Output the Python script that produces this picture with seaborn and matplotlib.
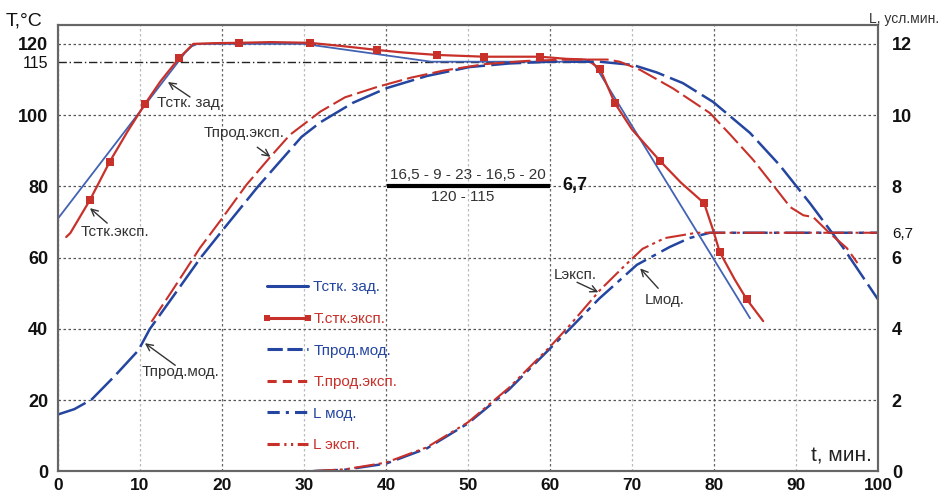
import matplotlib
matplotlib.use("Agg")
import matplotlib.pyplot as plt
from matplotlib.lines import Line2D
import seaborn as sns

# ---- data: time in minutes, temperature in °C, L in conventional minutes ----
# wall temperature, set-point
t_wall_set = [0, 15.5, 16.3, 17.0, 30.0, 45.5, 65.2, 84.4]
T_wall_set = [71, 117.5, 119.3, 120, 120, 115, 115, 43]

# wall temperature, experiment
t_wall_exp = [1.0, 1.5, 3.9, 6.3, 8.5, 10.6, 12.5, 14.8, 16.5, 19.0, 22.1, 26.0,
              30.7, 35.0, 38.9, 42.0, 46.2, 52.0, 58.8, 62.0, 64.5, 66.1, 67.9,
              70.0, 73.4, 76.0, 78.8, 79.9, 80.7, 82.5, 84.0, 86.0]
T_wall_exp = [65.8, 66.9, 76.2, 86.9, 95.5, 103.1, 109.5, 116.1, 120.0, 120.2,
              120.3, 120.5, 120.3, 119.3, 118.3, 117.6, 116.9, 116.4, 116.4,
              115.8, 115.6, 113.0, 103.4, 96.0, 87.2, 81.0, 75.3, 67.7, 61.6,
              54.0, 48.3, 42.2]
wall_exp_marked = [2, 3, 5, 7, 10, 12, 14, 16, 17, 18, 21, 22, 24, 26, 28, 30]

# product temperature, model
t_prod_mod = [0, 2, 4.1, 7, 9.8, 11.2, 14, 17.4, 20, 24.4, 29.7, 32, 36, 40.1,
              45, 50.2, 55, 60, 66, 70.1, 73, 76.2, 79.9, 84.4, 88, 91.7, 95.7, 100]
T_prod_mod = [16, 17.5, 20.2, 27, 34, 40, 49, 60, 67.5, 80, 93.9, 98, 103.5,
              107.6, 111, 113.5, 114.5, 115, 115, 114.1, 112, 109, 103.7, 95,
              86, 75.3, 63, 48.3]

# product temperature, experiment
t_prod_exp = [11.4, 14, 17.3, 20, 23, 25.9, 28.3, 32, 35, 38.9, 43, 47, 52, 57,
              62, 67, 68.5, 71, 75, 79.5, 82, 84.8, 87, 89.3, 90.9, 92.1, 94.1,
              96.2, 97.5]
T_prod_exp = [42, 51, 62.7, 71, 80.5, 88.3, 94.5, 101, 105, 107.9, 110.5, 112.5,
              114.3, 115.2, 115.6, 115.6, 115, 112.7, 107.5, 100.6, 94.5, 87.4,
              81, 74.2, 71.9, 71.4, 66.9, 62.7, 58.5]

# lethality L, model and experiment
t_L_mod = [0, 30, 35, 40, 45, 50, 55, 60, 62.4, 66, 70.6, 74.6, 77, 79.5, 85, 100]
L_mod = [0, 0, 0.05, 0.22, 0.65, 1.35, 2.3, 3.45, 4.0, 4.85, 5.8, 6.3, 6.55,
         6.7, 6.7, 6.7]
t_L_exp = [12, 30, 35, 40, 45, 50, 55, 60, 62.4, 66.1, 69, 71.3, 74, 77.9, 85, 100]
L_exp = [0, 0, 0.06, 0.25, 0.68, 1.38, 2.35, 3.5, 4.1, 5.09, 5.75, 6.25, 6.55,
         6.7, 6.7, 6.7]

x_ticks = list(range(0, 101, 10))
T_ticks = [0, 20, 40, 60, 80, 100, 115, 120]
L_ticks = [0, 2, 4, 6, 6.7, 8, 10, 12]
L_tick_labels = ["0", "2", "4", "6", "6,7", "8", "10", "12"]

BLUE = "#2445a0"
BLUE_THIN = "#4262b4"
RED = "#c8302a"
INK = "#333333"

sns.set_theme(style="white")
plt.rcParams["font.family"] = ["Liberation Sans", "DejaVu Sans"]

fig = plt.figure(figsize=(9.4, 4.95), dpi=100)
ax = fig.add_axes([0.0617, 0.0475, 0.8723, 0.902])
ax2 = ax.twinx()

T_MAX = 125.3
ax.set_xlim(0, 100)
ax.set_ylim(0, T_MAX)
ax2.set_ylim(0, T_MAX / 10)

# grid: dark dotted horizontals, alternating dark/light verticals
ax.set_xticks(x_ticks)
ax.set_yticks(T_ticks)
ax.grid(True, axis="y", linestyle=(0, (2, 2)), color="#555555", linewidth=0.9)
ax.grid(True, axis="x", linestyle=(0, (2, 2)), color="#666666", linewidth=0.9)
for val, gl in zip(x_ticks, ax.get_xgridlines()):
    if val % 20:
        gl.set_color("#bbbbbb")
for val, gl in zip(T_ticks, ax.get_ygridlines()):
    if val == 115:
        gl.set_visible(False)
ax.hlines(115, 0, 65.2, colors="#222222", linestyles=(0, (6, 2, 1, 2)), linewidth=1.0, zorder=1)
ax.set_axisbelow(True)

common = dict(estimator=None, sort=False, legend=False)
sns.lineplot(x=t_wall_set, y=T_wall_set, ax=ax, color=BLUE_THIN, linewidth=1.3, **common)
sns.lineplot(x=t_wall_exp, y=T_wall_exp, ax=ax, color=RED, linewidth=1.6,
             marker="s", markersize=5.5, markevery=wall_exp_marked,
             markeredgewidth=0, **common)
sns.lineplot(x=t_prod_mod, y=T_prod_mod, ax=ax, color=BLUE, linewidth=1.8,
             linestyle=(0, (12, 2.5)), **common)
sns.lineplot(x=t_prod_exp, y=T_prod_exp, ax=ax, color=RED, linewidth=1.5,
             linestyle=(0, (10, 2.5)), **common)
sns.lineplot(x=t_L_mod, y=L_mod, ax=ax2, color=BLUE, linewidth=1.8,
             linestyle=(0, (10, 2.5, 2, 2.5)), **common)
sns.lineplot(x=t_L_exp, y=L_exp, ax=ax2, color=RED, linewidth=1.5,
             linestyle=(0, (10, 2, 1.5, 2, 1.5, 2)), **common)

# legend with coloured labels
handles = [
    Line2D([], [], color=BLUE, lw=2.2),
    Line2D([], [], color=RED, lw=2.2, marker="s", markersize=4, markeredgewidth=0),
    Line2D([], [], color=BLUE, lw=2.2, linestyle=(0, (5, 1.5))),
    Line2D([], [], color=RED, lw=2.2, linestyle=(0, (3, 2))),
    Line2D([], [], color=BLUE, lw=2.2, linestyle=(0, (4, 2, 1, 2))),
    Line2D([], [], color=RED, lw=2.2, linestyle=(0, (4, 1.5, 0.7, 1.5, 0.7, 1.5))),
]
labels = ["Тстк. зад.", "Т.стк.эксп.", "Тпрод.мод.", "Т.прод.эксп.", "L мод.", "L эксп."]
ax2.legend(handles, labels, loc="upper left", bbox_to_anchor=(0.249, 0.428),
           frameon=False, fontsize=11, handlelength=3.3, handletextpad=0.05,
           labelspacing=1.15, borderpad=0, borderaxespad=0, numpoints=2,
           labelcolor="linecolor")

# annotations
def note(text, pos, tail, head):
    ax.text(pos[0], pos[1], text, fontsize=11, color=INK, ha="left", va="center")
    ax.annotate("", xy=head, xytext=tail,
                arrowprops=dict(arrowstyle="->", color=INK, lw=1.0, shrinkA=0, shrinkB=0))

note("Тстк. зад.", (12.1, 103.4), (16.1, 105.1), (13.4, 109.3))
note("Тстк.эксп.", (2.7, 67.3), (6.0, 69.7), (3.9, 73.9))
note("Тпрод.эксп.", (17.7, 94.9), (24.3, 91.0), (25.9, 88.3))
note("Тпрод.мод.", (10.2, 27.9), (14.3, 29.8), (10.6, 36.0))
note("Lэксп.", (60.4, 55.2), (63.3, 53.1), (65.9, 50.3))
note("Lмод.", (71.6, 48.1), (73.2, 51.4), (71.0, 57.0))

# lethality formula
ax.hlines(80, 40.1, 60.0, colors="black", linewidth=3, zorder=4)
ax.text(50.0, 83.3, "16,5 - 9 - 23 - 16,5 - 20", fontsize=11, color=INK, ha="center", va="center")
ax.text(49.4, 77.0, "120 - 115", fontsize=11, color=INK, ha="center", va="center")
ax.text(61.5, 80.3, "6,7", fontsize=13, fontweight="bold", color="#111111", ha="left", va="center")

ax.text(99.3, 4.3, "t, мин.", fontsize=15, color="#222222", ha="right", va="center")

# ticks and labels
ax.tick_params(axis="both", length=0, labelsize=13, colors="#111111")
ax.tick_params(axis="y", pad=7)
ax.tick_params(axis="x", pad=5, labelsize=12.5)
ax.set_xticklabels([str(v) for v in x_ticks], fontweight="bold")
ax.set_yticklabels([str(v) for v in T_ticks])
for lbl, v in zip(ax.get_yticklabels(), T_ticks):
    if v == 115:
        lbl.set_fontsize(11.5)
    else:
        lbl.set_fontweight("bold")

ax2.set_yticks(L_ticks)
ax2.set_yticklabels(L_tick_labels)
ax2.tick_params(axis="y", length=0, labelsize=13, colors="#111111", pad=10)
for lbl, v in zip(ax2.get_yticklabels(), L_ticks):
    if v == 6.7:
        lbl.set_fontsize(11)
    else:
        lbl.set_fontweight("bold")

for a in (ax, ax2):
    for sp in a.spines.values():
        sp.set_color("#666666")
        sp.set_linewidth(1.5)

fig.text(0.006, 0.958, "T,°C", fontsize=14, color="#111111", ha="left", va="center")
fig.text(0.999, 0.962, "L, усл.мин.", fontsize=10, color="#333333", ha="right", va="center")

fig.savefig("out.png", dpi=100)
